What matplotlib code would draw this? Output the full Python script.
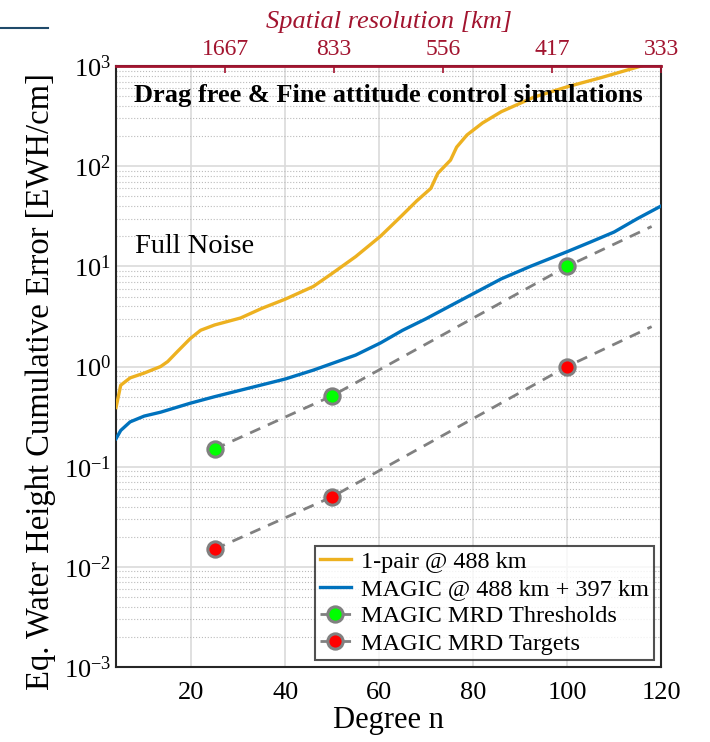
import numpy as np
import matplotlib
matplotlib.use("Agg")
import matplotlib.pyplot as plt
from matplotlib.ticker import LogLocator, NullFormatter, FixedLocator

plt.rcParams['font.family'] = ['Liberation Serif', 'DejaVu Serif']
plt.rcParams['mathtext.fontset'] = 'stix'

# 1-pair @ 488 km
n_pair = [4, 5, 7, 10, 13.5, 15, 17, 19.8, 22, 25, 30.5, 35, 40, 46, 50, 55, 60.3,
          64.5, 68, 71, 72.5, 75.2, 76.5, 78.7, 82, 86, 93, 100, 107, 117]
err_pair = [0.39, 0.65, 0.77, 0.86, 1.0, 1.12, 1.4, 1.9, 2.3, 2.6, 3.05, 3.8, 4.7, 6.3,
            8.5, 12.5, 20, 31, 45, 60, 85, 115, 155, 205, 270, 350, 490, 620, 760, 1040]

# MAGIC @ 488 km + 397 km
n_magic = [4, 5, 7, 10, 13.5, 19.8, 25, 30.5, 40, 46, 55, 60.3, 65, 70, 75, 81.5,
           86, 92.2, 100, 105, 110, 115, 120]
err_magic = [0.19, 0.23, 0.28, 0.32, 0.35, 0.43, 0.5, 0.58, 0.75, 0.92, 1.3, 1.72,
             2.3, 3.0, 4.0, 5.8, 7.5, 10, 14, 17.5, 22, 30, 40]

# MRD requirements (markers at 25, 50, 100; dashed extension to 118)
n_mrd = [25, 50, 100, 118]
thresholds = [0.15, 0.51, 10.0, 25.0]
targets = [0.015, 0.05, 1.0, 2.5]

top_ticks = [27.2, 50.4, 73.6, 96.8, 120]
top_labels = ['1667', '833', '556', '417', '333']

yellow = '#EDB120'
blue = '#0072BD'
red = '#A2142F'
gray = '#808080'

fig = plt.figure(figsize=(7.1, 7.42), dpi=100)
ax = fig.add_axes([0.1634, 0.1011, 0.931 - 0.1634, 0.911 - 0.1011])

ax.plot(n_pair, err_pair, color=yellow, lw=2.4, label='1-pair @ 488 km', zorder=3)
ax.plot(n_magic, err_magic, color=blue, lw=2.4, label='MAGIC @ 488 km + 397 km', zorder=3)
ax.plot(n_mrd, thresholds, '--', color=gray, lw=2, dashes=(4, 3), marker='o', markevery=[0, 1, 2],
        ms=11, mfc='#00FF00', mec=gray, mew=2.2, label='MAGIC MRD Thresholds', zorder=4)
ax.plot(n_mrd, targets, '--', color=gray, lw=2, dashes=(4, 3), marker='o', markevery=[0, 1, 2],
        ms=11, mfc='#FF0000', mec=gray, mew=2.2, label='MAGIC MRD Targets', zorder=4)

ax.set_yscale('log')
ax.set_xlim(4, 120)
ax.set_ylim(1e-3, 1e3)
ax.set_xticks([20, 40, 60, 80, 100, 120])
ax.yaxis.set_major_locator(LogLocator(base=10, numticks=10))
ax.yaxis.set_minor_locator(LogLocator(base=10, subs=np.arange(2, 10), numticks=20))
ax.yaxis.set_minor_formatter(NullFormatter())
ax.grid(True, which='major', color='#DADADA', lw=1.2)
ax.grid(True, which='minor', axis='y', color='#BBBBBB', lw=0.8, ls=':')
ax.tick_params(labelsize=19, length=0, which='both')
ax.tick_params(axis='x', pad=11)
ax.set_xlabel('Degree n', fontsize=22, labelpad=1)
ax.set_ylabel('Eq. Water Height Cumulative Error [EWH/cm]', fontsize=23.5)
ax.yaxis.set_label_coords(-0.11, 0.475)
for s in ax.spines.values():
    s.set_linewidth(1.5)
    s.set_color('#262626')

ax.text(0.5, 0.97, 'Drag free & Fine attitude control simulations', transform=ax.transAxes,
        ha='center', va='top', fontsize=19, fontweight='bold', zorder=5)
ax.text(0.035, 0.70, 'Full Noise', transform=ax.transAxes, ha='left', va='center', fontsize=20.5)

leg = ax.legend(loc='lower right', fontsize=17.5, frameon=True, fancybox=False, edgecolor='#262626',
                handlelength=1.3, handletextpad=0.4, borderpad=0.2, labelspacing=0.22,
                borderaxespad=0.3)
leg.get_frame().set_linewidth(1.5)

top = ax.twiny()
top.set_xlim(ax.get_xlim())
top.xaxis.set_major_locator(FixedLocator(top_ticks))
top.set_xticklabels(top_labels)
top.tick_params(axis='x', colors=red, labelsize=17, direction='in', length=5, width=1.2, pad=4)
top.spines['top'].set_color(red)
top.spines['top'].set_linewidth(2)
for k in ['left', 'right', 'bottom']:
    top.spines[k].set_visible(False)
top.set_xlabel('Spatial resolution [km]', fontsize=19, color=red, style='italic', labelpad=8)

# decorative slide line in corner
fig.add_artist(plt.Line2D([0, 0.068], [0.962, 0.962], color='#1F4A6A', lw=1.5))

fig.savefig('out.png', dpi=100)
